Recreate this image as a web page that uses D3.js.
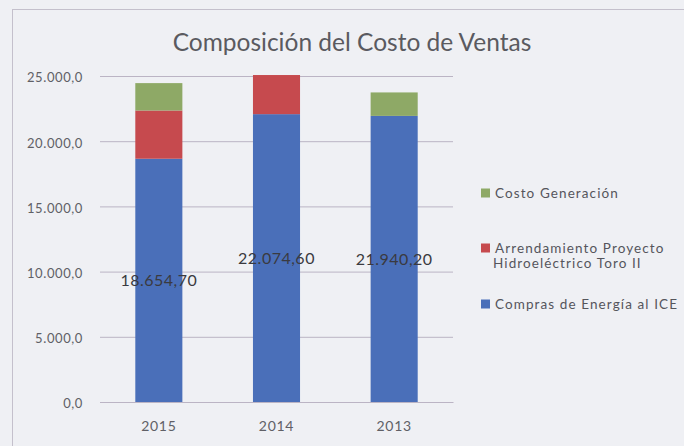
<!DOCTYPE html>
<html>
  <head>
    <meta charset="utf-8">
    <script src="https://cdn.jsdelivr.net/npm/d3@7"></script>
<style>
  body {
      margin: 0;
      background: #eff0f4;
  }
  text {
      font-family: Lato, "Liberation Sans", sans-serif;
  }
</style>
  </head>
  <body>
    <div id="vis"></div>

    <script type="text/javascript">

        // data
        const years = ["2015", "2014", "2013"];
        const compras = [18654.7, 22074.6, 21940.2];
        const arrendamiento = [3700, 3000, 0];
        const generacion = [2100, 0, 1800];
        const legendLines = [["Costo Generación"],
            ["Arrendamiento Proyecto", "Hidroeléctrico Toro II"],
            ["Compras de Energía al ICE"]];
        const yTicks = [0, 5000, 10000, 15000, 20000, 25000];
        const colors = ["#4a6fb9", "#c64a4e", "#8ea966"];

        const width = 684;
        const height = 446;
        const svg = d3.select("#vis").append("svg")
            .attr("width", width)
            .attr("height", height);

        const es = d3.formatLocale({decimal: ",", thousands: ".", grouping: [3], currency: ["", ""]});
        const fmtTick = es.format(",.1f");
        const fmtLabel = es.format(",.2f");

        // chart frame (right and bottom edges cut off)
        svg.append("rect")
            .attr("x", 12.5).attr("y", 9.5)
            .attr("width", 800).attr("height", 600)
            .attr("fill", "none")
            .attr("stroke", "#c4c0cc");

        svg.append("text")
            .attr("x", 352).attr("y", 51)
            .attr("text-anchor", "middle")
            .attr("font-size", 24.5)
            .attr("fill", "#5a5a60")
            .text("Composición del Costo de Ventas");

        var xScale = d3.scaleBand().domain(years).range([100, 453])
            .paddingInner(0.6).paddingOuter(0.3);
        var yScale = d3.scaleLinear().domain([0, 25000]).range([402, 76]);

        var yAxis = d3.axisLeft(yScale).tickValues(yTicks).tickFormat(fmtTick)
            .tickSize(-(453 - 100)).tickPadding(17);
        var gy = svg.append("g").attr("transform", "translate(100,0)").call(yAxis);
        gy.select(".domain").remove();
        gy.selectAll(".tick line").attr("stroke", "#bbb4c4");
        gy.selectAll(".tick text")
            .attr("font-size", 13).attr("letter-spacing", 0.6)
            .attr("fill", "#606066").attr("dy", "0.45em");

        var xAxis = d3.axisBottom(xScale).tickSize(0).tickPadding(19);
        var gx = svg.append("g").attr("transform", "translate(0,402)").call(xAxis);
        gx.select(".domain").attr("stroke", "#bbb4c4");
        gx.selectAll(".tick text")
            .attr("font-size", 14).attr("letter-spacing", 0.7)
            .attr("fill", "#606066");

        var rows = years.map((y, i) => ({year: y, a: compras[i], b: arrendamiento[i], c: generacion[i]}));
        var stacked = d3.stack().keys(["a", "b", "c"])(rows);

        svg.append("g").selectAll("g")
            .data(stacked)
            .join("g")
            .attr("fill", (d, i) => colors[i])
            .selectAll("rect")
            .data(d => d.filter(p => p[1] > p[0]))
            .join("rect")
            .attr("x", d => xScale(d.data.year))
            .attr("width", xScale.bandwidth())
            .attr("y", d => yScale(d[1]))
            .attr("height", d => yScale(d[0]) - yScale(d[1]));

        // data labels on the blue segment
        svg.append("g").selectAll("text")
            .data(rows)
            .join("text")
            .attr("x", d => xScale(d.year) + xScale.bandwidth() / 2)
            .attr("y", d => yScale(d.a / 2))
            .attr("dy", "0.35em")
            .attr("text-anchor", "middle")
            .attr("font-size", 16)
            .attr("letter-spacing", 0.5)
            .attr("fill", "#3a3a40")
            .text(d => fmtLabel(d.a));

        // legend
        var legendY = [193, 248, 304];
        var lg = svg.append("g").selectAll("g")
            .data(legendLines)
            .join("g")
            .attr("transform", (d, i) => "translate(481," + legendY[i] + ")");
        lg.append("rect")
            .attr("x", 0).attr("y", -4.5)
            .attr("width", 9).attr("height", 9)
            .attr("fill", (d, i) => colors[2 - i]);
        lg.append("text")
            .attr("font-size", 13.5)
            .attr("letter-spacing", 1.1)
            .attr("fill", "#55555c")
            .selectAll("tspan")
            .data(d => d)
            .join("tspan")
            .attr("x", (d, j) => j === 0 ? 14 : 12)
            .attr("y", (d, j) => j * 15)
            .attr("dy", "0.35em")
            .text(d => d);

    </script>
  </body>
</html>
